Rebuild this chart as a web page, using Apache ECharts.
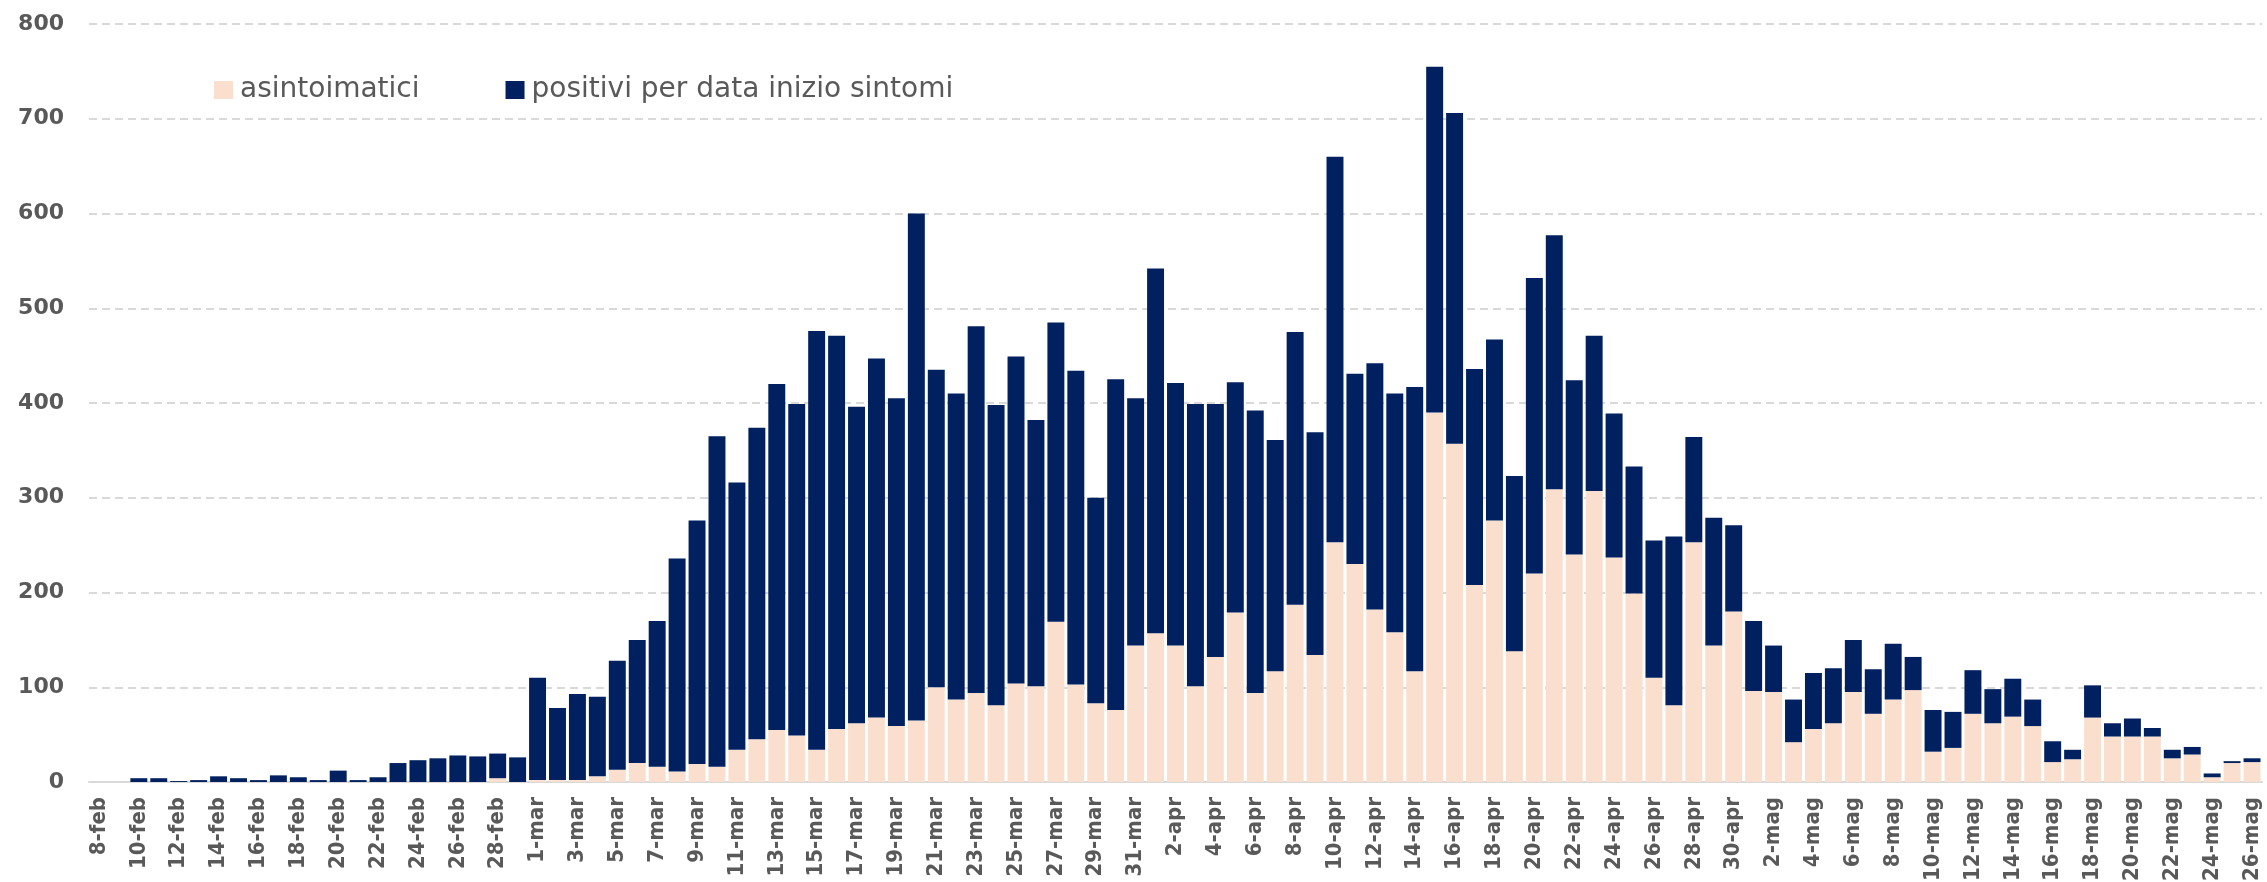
<!DOCTYPE html>
<html>
<head>
<meta charset="utf-8">
<script src="https://cdn.jsdelivr.net/npm/echarts@6/dist/echarts.min.js"></script>
<style>
html,body{margin:0;padding:0;background:#fff;}
#chart{width:2267px;height:882px;}
</style>
</head>
<body>
<div id="chart"></div>
<script>
const categories = [
 '8-feb','9-feb','10-feb','11-feb','12-feb','13-feb','14-feb','15-feb','16-feb','17-feb','18-feb','19-feb','20-feb','21-feb','22-feb','23-feb','24-feb','25-feb','26-feb','27-feb','28-feb','29-feb',
 '1-mar','2-mar','3-mar','4-mar','5-mar','6-mar','7-mar','8-mar','9-mar','10-mar','11-mar','12-mar','13-mar','14-mar','15-mar','16-mar','17-mar','18-mar','19-mar','20-mar','21-mar','22-mar','23-mar','24-mar','25-mar','26-mar','27-mar','28-mar','29-mar','30-mar','31-mar',
 '1-apr','2-apr','3-apr','4-apr','5-apr','6-apr','7-apr','8-apr','9-apr','10-apr','11-apr','12-apr','13-apr','14-apr','15-apr','16-apr','17-apr','18-apr','19-apr','20-apr','21-apr','22-apr','23-apr','24-apr','25-apr','26-apr','27-apr','28-apr','29-apr','30-apr',
 '1-mag','2-mag','3-mag','4-mag','5-mag','6-mag','7-mag','8-mag','9-mag','10-mag','11-mag','12-mag','13-mag','14-mag','15-mag','16-mag','17-mag','18-mag','19-mag','20-mag','21-mag','22-mag','23-mag','24-mag','25-mag','26-mag'
];
const seriesNames = ['asintoimatici', 'positivi per data inizio sintomi'];
const asintomatici = [
 0,0,0,0,0,0,0,0,0,0,0,0,0,0,0,0,0,0,0,0,4,0,
 2,2,2,6,13,20,16,11,19,16,34,45,55,49,34,56,62,68,59,65,100,87,94,81,104,101,169,103,83,76,144,
 157,144,101,132,179,94,117,187,134,253,230,182,158,117,390,357,208,276,138,220,309,240,307,237,199,110,81,253,144,180,
 96,95,42,56,62,95,72,87,97,32,36,72,62,69,59,21,24,68,48,48,48,25,29,5,20,21
];
const positiviSintomi = [
 0,0,4,4,1,2,6,4,2,7,5,2,12,2,5,20,23,25,28,27,26,26,
 108,76,91,84,115,130,154,225,257,349,282,329,365,350,442,415,334,379,346,535,335,323,387,317,345,281,316,331,217,349,261,
 385,277,298,267,243,298,244,288,235,407,201,260,252,300,365,349,228,191,185,312,268,184,164,152,134,145,178,111,135,91,
 74,49,45,59,58,55,47,59,35,44,38,46,36,40,28,22,10,34,14,19,9,9,8,4,2,4
];
const yTicks = {min: 0, max: 800, interval: 100};

const chart = echarts.init(document.getElementById('chart'), null, {renderer: 'canvas'});
chart.setOption({
  animation: false,
  backgroundColor: '#ffffff',
  grid: {left: 89, right: 5, top: 24, bottom: 100, containLabel: false, outerBoundsMode: 'none'},
  legend: {
    left: 209, top: 71,
    itemWidth: 19, itemHeight: 18, itemGap: 86,
    icon: 'rect',
    textStyle: {fontFamily: 'DejaVu Sans', fontSize: 28, color: '#595959', padding: [0,0,0,2]},
    data: seriesNames
  },
  xAxis: {
    type: 'category',
    data: categories,
    axisLine: {show: true, lineStyle: {color: '#D9D9D9', width: 2}},
    axisTick: {show: false},
    axisLabel: {
      interval: 1, rotate: 90, margin: 15,
      fontFamily: "'Liberation Sans Narrow', 'DejaVu Sans Condensed', sans-serif",
      fontWeight: 'bold', fontSize: 22, color: '#595959'
    }
  },
  yAxis: {
    type: 'value',
    min: yTicks.min, max: yTicks.max, interval: yTicks.interval,
    axisLine: {show: false},
    axisTick: {show: false},
    axisLabel: {margin: 25, fontFamily: 'DejaVu Sans', fontWeight: 'bold', fontSize: 22, color: '#595959'},
    splitLine: {show: true, lineStyle: {color: '#D9D9D9', width: 2, type: [8, 5]}}
  },
  series: [
    {
      name: seriesNames[0], type: 'bar', stack: 'tot', data: asintomatici,
      barCategoryGap: '15%',
      itemStyle: {color: '#FADFCF'}
    },
    {
      name: seriesNames[1], type: 'bar', stack: 'tot', data: positiviSintomi,
      barCategoryGap: '15%',
      itemStyle: {color: '#002060'}
    }
  ]
});
</script>
</body>
</html>
